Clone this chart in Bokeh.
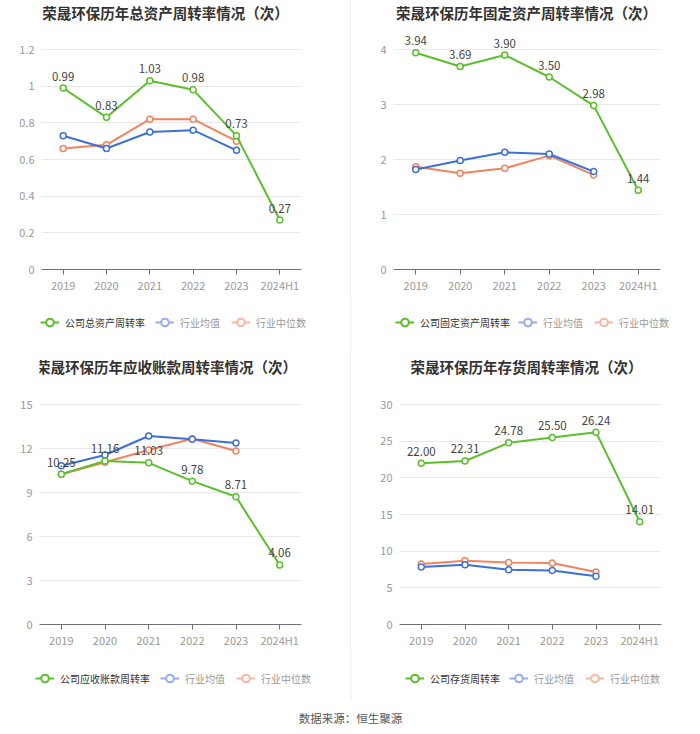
from bokeh.plotting import figure
from bokeh.models import (Range1d, FixedTicker, ColumnDataSource, LabelSet, Label,
                          Legend, LegendItem, Div, Span)
from bokeh.core.properties import value
from bokeh.layouts import row, column
from bokeh.embed import file_html
from bokeh.resources import INLINE

FONT = "Noto Sans CJK SC"

years = ["2019", "2020", "2021", "2022", "2023", "2024H1"]
years_ind = ["2019", "2020", "2021", "2022", "2023"]

# 总资产周转率
asset_title = "荣晟环保历年总资产周转率情况（次）"
asset_name = "公司总资产周转率"
asset_company = [0.99, 0.83, 1.03, 0.98, 0.73, 0.27]
asset_avg = [0.73, 0.66, 0.75, 0.76, 0.65]
asset_median = [0.66, 0.68, 0.82, 0.82, 0.70]
asset_ticks = [0, 0.2, 0.4, 0.6, 0.8, 1.0, 1.2]
asset_tick_labels = ["0", "0.2", "0.4", "0.6", "0.8", "1", "1.2"]

# 固定资产周转率
fixed_title = "荣晟环保历年固定资产周转率情况（次）"
fixed_name = "公司固定资产周转率"
fixed_company = [3.94, 3.69, 3.90, 3.50, 2.98, 1.44]
fixed_avg = [1.82, 1.98, 2.13, 2.10, 1.78]
fixed_median = [1.87, 1.75, 1.84, 2.07, 1.72]
fixed_ticks = [0, 1, 2, 3, 4]
fixed_tick_labels = ["0", "1", "2", "3", "4"]

# 应收账款周转率
recv_title = "荣晟环保历年应收账款周转率情况（次）"
recv_name = "公司应收账款周转率"
recv_company = [10.25, 11.16, 11.03, 9.78, 8.71, 4.06]
recv_avg = [10.83, 11.56, 12.86, 12.63, 12.38]
recv_median = [10.25, 11.07, 11.90, 12.67, 11.84]
recv_ticks = [0, 3, 6, 9, 12, 15]
recv_tick_labels = ["0", "3", "6", "9", "12", "15"]

# 存货周转率
inv_title = "荣晟环保历年存货周转率情况（次）"
inv_name = "公司存货周转率"
inv_company = [22.00, 22.31, 24.78, 25.50, 26.24, 14.01]
inv_avg = [7.84, 8.15, 7.47, 7.38, 6.57]
inv_median = [8.24, 8.70, 8.47, 8.38, 7.16]
inv_ticks = [0, 5, 10, 15, 20, 25, 30]
inv_tick_labels = ["0", "5", "10", "15", "20", "25", "30"]

legend_avg = "行业均值"
legend_median = "行业中位数"
source_text = "数据来源：恒生聚源"

GREEN = "#5bbf2c"
BLUE = "#3b6fdb"
ORANGE = "#f3825f"
BLUE_L = "#93acec"
ORANGE_L = "#f6b7a3"
DIVIDER = "#eeeeee"


def make_panel(title, company, avg, median, ticks, tick_labels,
               w, h, bl, br, bb, tick_span, title_xy):
    frame_h = h - bb
    ymax = ticks[-1] * frame_h / tick_span
    p = figure(width=w, height=h, x_range=years, y_range=Range1d(0, ymax),
               title=None, output_backend="svg", toolbar_location=None,
               min_border_left=bl, min_border_right=br,
               min_border_top=0, min_border_bottom=bb)
    p.outline_line_color = None
    p.background_fill_color = "white"
    p.border_fill_color = "white"
    p.xgrid.grid_line_color = None
    p.ygrid.grid_line_color = "#e8e8e8"
    p.ygrid.grid_line_width = 1
    p.ygrid.ticker = FixedTicker(ticks=ticks)

    p.yaxis.ticker = FixedTicker(ticks=ticks)
    p.yaxis.major_label_overrides = {t: l for t, l in zip(ticks, tick_labels)}
    p.yaxis.axis_line_color = None
    p.yaxis.major_tick_line_color = None
    p.yaxis.minor_tick_line_color = None
    p.yaxis.major_tick_out = 0
    p.yaxis.major_label_standoff = 7
    p.yaxis.major_label_text_font = FONT
    p.yaxis.major_label_text_font_size = "11px"
    p.yaxis.major_label_text_color = "#999999"

    p.xaxis.axis_line_color = "#6e7079"
    p.xaxis.major_tick_line_color = "#6e7079"
    p.xaxis.major_tick_out = 5
    p.xaxis.major_tick_in = 0
    p.xaxis.major_label_standoff = 2
    p.xaxis.major_label_text_font = FONT
    p.xaxis.major_label_text_font_size = "11px"
    p.xaxis.major_label_text_color = "#999999"

    src_c = ColumnDataSource(dict(x=years, y=company,
                                  t=[f"{v:.2f}" for v in company]))
    src_a = ColumnDataSource(dict(x=years_ind, y=avg))
    src_m = ColumnDataSource(dict(x=years_ind, y=median))

    p.line("x", "y", source=src_m, line_color=ORANGE, line_width=2)
    p.scatter("x", "y", source=src_m, size=6, marker="circle",
              fill_color="white", line_color=ORANGE, line_width=1.5)
    p.line("x", "y", source=src_a, line_color=BLUE, line_width=2)
    p.scatter("x", "y", source=src_a, size=6, marker="circle",
              fill_color="white", line_color=BLUE, line_width=1.5)
    p.line("x", "y", source=src_c, line_color=GREEN, line_width=2)
    p.scatter("x", "y", source=src_c, size=6, marker="circle",
              fill_color="white", line_color=GREEN, line_width=1.5)

    p.add_layout(LabelSet(x="x", y="y", text="t", source=src_c, y_offset=12,
                          text_align="center", text_baseline="middle",
                          text_font=value(FONT), text_font_size=value("11.5px"),
                          text_color="#444444"))

    p.add_layout(Label(x=title_xy[0], y=title_xy[1], x_units="screen",
                       y_units="screen", text=title, text_align="center",
                       text_baseline="middle", text_font=FONT,
                       text_font_size="14.5px", text_font_style="bold",
                       text_color="#333333"))
    return p


def make_legend_strip(h, names, xs, leg_y):
    lg = figure(width=700, height=h, x_range=Range1d(0, 700), y_range=Range1d(0, h),
                title=None, output_backend="svg", toolbar_location=None, min_border=0)
    lg.axis.visible = False
    lg.grid.visible = False
    lg.outline_line_color = None
    lg.add_layout(Span(location=350.5, dimension="height", line_color=DIVIDER,
                       line_width=1))
    common = dict(orientation="horizontal", padding=0, margin=0, spacing=11,
                  glyph_width=19, glyph_height=20, label_height=20,
                  label_standoff=6, label_text_font=FONT,
                  label_text_font_size="10px", border_line_color=None,
                  background_fill_alpha=0, label_text_baseline="middle")
    for name, (x1, x2) in zip(names, xs):
        items = []
        for col in (GREEN, BLUE_L, ORANGE_L):
            # off-screen point: only the legend swatch is visible
            lr = lg.line(x=[-100, -90], y=[-100, -100], line_color=col, line_width=2)
            sr = lg.scatter(x=[-100], y=[-100], marker="circle", fill_color="white",
                            line_color=col, line_width=2)
            items.append([lr, sr])
        leg1 = Legend(items=[LegendItem(label=name, renderers=items[0])],
                      location=(x1, leg_y), label_text_color="#333333", **common)
        leg2 = Legend(items=[LegendItem(label=legend_avg, renderers=items[1]),
                             LegendItem(label=legend_median, renderers=items[2])],
                      location=(x2, leg_y), label_text_color="#999999", **common)
        lg.add_layout(leg1)
        lg.add_layout(leg2)
    return lg


p1 = make_panel(asset_title, asset_company, asset_avg, asset_median,
                asset_ticks, asset_tick_labels, 350, 300, 41, 49, 31, 220,
                (124, 257))
p2 = make_panel(fixed_title, fixed_company, fixed_avg, fixed_median,
                fixed_ticks, fixed_tick_labels, 349, 300, 42, 40, 31, 220,
                (133, 257))
p3 = make_panel(recv_title, recv_company, recv_avg, recv_median,
                recv_ticks, recv_tick_labels, 350, 300, 39, 49, 25, 220.7,
                (127, 258))
p4 = make_panel(inv_title, inv_company, inv_avg, inv_median,
                inv_ticks, inv_tick_labels, 349, 300, 48, 39, 25, 220.7,
                (127, 258))

strip_top = make_legend_strip(50, [asset_name, fixed_name], [(40, 155), (395, 518)], 18)
strip_bottom = make_legend_strip(50, [recv_name, inv_name], [(35, 160), (405, 509)], 12)

d1 = Div(width=1, height=300, margin=0, styles={"background-color": DIVIDER})
d2 = Div(width=1, height=300, margin=0, styles={"background-color": DIVIDER})

ps = figure(width=700, height=34, x_range=Range1d(0, 1), y_range=Range1d(0, 1),
            title=None, output_backend="svg", toolbar_location=None, min_border=0)
ps.axis.visible = False
ps.grid.visible = False
ps.outline_line_color = None
ps.add_layout(Label(x=0.5, y=0.5, text=source_text, text_align="center",
                    text_baseline="middle", text_font=FONT,
                    text_font_size="11.5px", text_color="#555555"))

layout = column(row(p1, d1, p2), strip_top, row(p3, d2, p4), strip_bottom, ps)

open("out.html", "w").write(file_html(layout, INLINE))
